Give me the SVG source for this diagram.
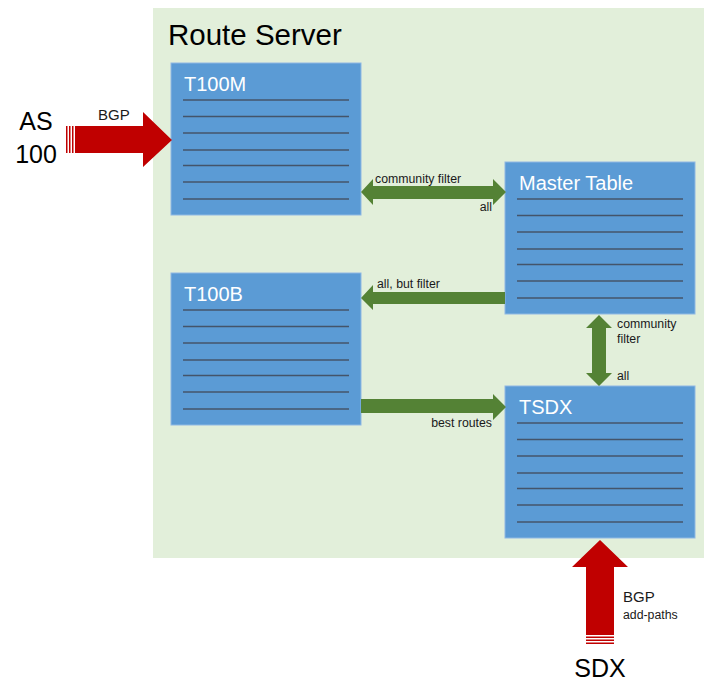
<svg xmlns="http://www.w3.org/2000/svg" width="704" height="682" viewBox="0 0 704 682">
<defs>
<style>
.box{fill:#5b9bd5;stroke:#8fb8e3;stroke-width:1}
.ln{stroke:#44546a;stroke-width:1.5}
.ttl{font-family:"Liberation Sans",Arial,sans-serif;font-size:20px;fill:#ffffff}
.lbl{font-family:"Liberation Sans",Arial,sans-serif;font-size:12.3px;fill:#1a1a1a}
.big{font-family:"Liberation Sans",Arial,sans-serif;font-size:25px;fill:#000000}
.bgp{font-family:"Liberation Sans",Arial,sans-serif;font-size:15px;fill:#1a1a1a}
.grn{fill:#548235}
.red{fill:#c00000}
</style>
<g id="rows">
<line class="ln" x1="12" y1="37" x2="178" y2="37"/>
<line class="ln" x1="12" y1="53.5" x2="178" y2="53.5"/>
<line class="ln" x1="12" y1="70" x2="178" y2="70"/>
<line class="ln" x1="12" y1="87" x2="178" y2="87"/>
<line class="ln" x1="12" y1="102.5" x2="178" y2="102.5"/>
<line class="ln" x1="12" y1="119" x2="178" y2="119"/>
<line class="ln" x1="12" y1="136" x2="178" y2="136"/>
</g>
</defs>
<rect x="153" y="8" width="551" height="550" fill="#e2efda"/>
<text x="168" y="45" font-family="Liberation Sans, Arial, sans-serif" font-size="29.5" fill="#000">Route Server</text>

<g id="T100M">
<rect class="box" x="171" y="63" width="190" height="152"/>
<use href="#rows" x="171" y="63"/>
<text class="ttl" x="184" y="91">T100M</text>
</g>
<g id="MasterTable">
<rect class="box" x="505" y="162" width="190" height="152"/>
<use href="#rows" x="505" y="162"/>
<text class="ttl" x="519" y="190">Master Table</text>
</g>
<g id="T100B">
<rect class="box" x="171" y="273" width="190" height="152"/>
<use href="#rows" x="171" y="273"/>
<text class="ttl" x="184" y="301">T100B</text>
</g>
<g id="TSDX">
<rect class="box" x="505" y="386" width="190" height="152"/>
<use href="#rows" x="505" y="386"/>
<text class="ttl" x="519" y="414">TSDX</text>
</g>

<g id="AS100">
<text class="big" x="36" y="130" text-anchor="middle">AS</text>
<text class="big" x="36" y="163" text-anchor="middle">100</text>
</g>
<g id="SDX">
<text class="big" x="600" y="677" text-anchor="middle">SDX</text>
</g>

<g id="connectors">
<!-- AS100 BGP -->
<path class="red" d="M75,126 L143,126 L143,112 L172,140 L143,167 L143,153 L75,153 Z"/>
<rect class="red" x="66" y="126" width="1.5" height="27"/>
<rect class="red" x="69" y="126" width="1.5" height="27"/>
<rect class="red" x="72" y="126" width="1.5" height="27"/>
<text class="bgp" x="98" y="120">BGP</text>
<!-- SDX BGP -->
<path class="red" d="M586,635 L586,567 L572,567 L600,540 L628,567 L614,567 L614,635 Z"/>
<rect class="red" x="586" y="636.5" width="28" height="1.5"/>
<rect class="red" x="586" y="639.5" width="28" height="1.5"/>
<rect class="red" x="586" y="642.5" width="28" height="1.5"/>
<text class="bgp" x="623" y="602">BGP</text>
<text class="lbl" x="623" y="619">add-paths</text>
<!-- T100M <-> Master -->
<path class="grn" d="M361,192 L373,179 L373,186 L493,186 L493,179 L506,192 L493,205 L493,199 L373,199 L373,205 Z"/>
<text class="lbl" x="375" y="183">community filter</text>
<text class="lbl" x="492" y="211" text-anchor="end">all</text>
<!-- Master -> T100B -->
<path class="grn" d="M505,292 L373,292 L373,285 L361,298 L373,310 L373,304 L505,304 Z"/>
<text class="lbl" x="377" y="288">all, but filter</text>
<!-- T100B -> TSDX -->
<path class="grn" d="M361,399 L493,399 L493,394 L506,407 L493,420 L493,413 L361,413 Z"/>
<text class="lbl" x="492" y="427" text-anchor="end">best routes</text>
<!-- Master <-> TSDX -->
<path class="grn" d="M599,315 L612,328 L606,328 L606,373 L612,373 L599,386 L586,373 L592,373 L592,328 L586,328 Z"/>
<text class="lbl" x="617" y="328">community</text>
<text class="lbl" x="617" y="343">filter</text>
<text class="lbl" x="617" y="380">all</text>
</g>
</svg>
